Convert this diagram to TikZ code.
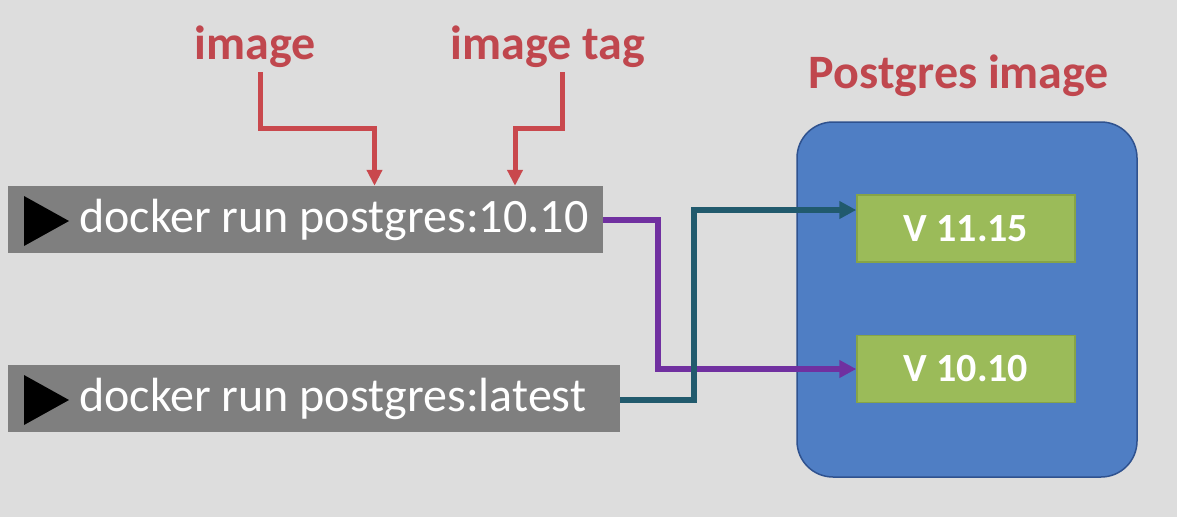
\documentclass[tikz,border=0pt]{standalone}
\usepackage{fontspec}
\setmainfont{Carlito}
\usetikzlibrary{arrows.meta}
\definecolor{bgc}{HTML}{DDDDDD}
\definecolor{cmdgray}{HTML}{7F7F7F}
\definecolor{lblred}{HTML}{C0474E}
\definecolor{linered}{HTML}{C9484D}
\definecolor{purp}{HTML}{7030A0}
\definecolor{tealc}{HTML}{215A6D}
\definecolor{blfill}{HTML}{4F7EC4}
\definecolor{bldraw}{HTML}{2F528F}
\definecolor{grfill}{HTML}{9BBB59}
\definecolor{grdraw}{HTML}{86A447}
\tikzset{
  cmdbox/.style={fill=cmdgray, draw=none, minimum height=67pt, inner sep=0pt},
  cmdtext/.style={text=white, font=\fontsize{48}{52}\selectfont, anchor=west, inner sep=0pt},
  lbl/.style={text=lblred, font=\bfseries\fontsize{48}{52}\selectfont, inner sep=0pt},
  verbox/.style={fill=grfill, draw=grdraw, line width=1.5pt, minimum width=218pt, minimum height=67pt, text=white, font=\bfseries\fontsize{40}{44}\selectfont, inner sep=0pt},
  redarr/.style={draw=linered, line width=5pt, -{Triangle[length=16pt,width=15pt]}},
  purparr/.style={draw=purp, line width=6pt, -{Triangle[length=17pt,width=17pt]}},
  tealarr/.style={draw=tealc, line width=6pt, -{Triangle[length=17pt,width=17pt]}},
}
\begin{document}
\begin{tikzpicture}[x=1pt,y=-1pt]
\fill[bgc] (0,0) rectangle (1177,517);
\useasboundingbox (0,0) rectangle (1177,517);
% command boxes
\node[cmdbox, minimum width=595pt] (cmda) at (305.5,219.5) {};
\node[cmdbox, minimum width=612pt] (cmdb) at (314,398.5) {};
\fill[black] (24,196) -- (69,221) -- (24,246) -- cycle;
\fill[black] (24,375) -- (69,400) -- (24,425) -- cycle;
\node[cmdtext] (cmdatext) at (79,220) {docker run postgres:10.10};
\node[cmdtext] (cmdbtext) at (79,399) {docker run postgres:latest};
% labels
\node[lbl] (lblimage) at (255,47) {image};
\node[lbl] (lbltag) at (548,47) {image tag};
\node[lbl] (lblpg) at (959,76) {Postgres image};
% postgres image box
\node[fill=blfill, draw=bldraw, line width=1.5pt, rounded corners=36pt, minimum width=340pt, minimum height=355pt, inner sep=0pt] (pgbox) at (967,299.5) {};
\node[verbox] (v1115) at (966,228.5) {V 11.15};
\node[verbox] (v1010) at (966,369) {V 10.10};
% red arrows
\coordinate (bendA) at (374.5,128);
\coordinate (bendB) at (515,128);
\draw[redarr] (260,72) |- (bendA) -- (bendA|-cmda.north);
\draw[redarr] (562,72) |- (bendB) -- (bendB|-cmda.north);
% connectors
\draw[purparr] (cmda.east) ++(0,0.5) -- ++(55,0) |- (v1010.west);
\draw[tealarr] (cmdb.east) ++(0,1.5) -- ++(74,0) |- ([yshift=18.5pt]v1115.west);
\end{tikzpicture}
\end{document}
